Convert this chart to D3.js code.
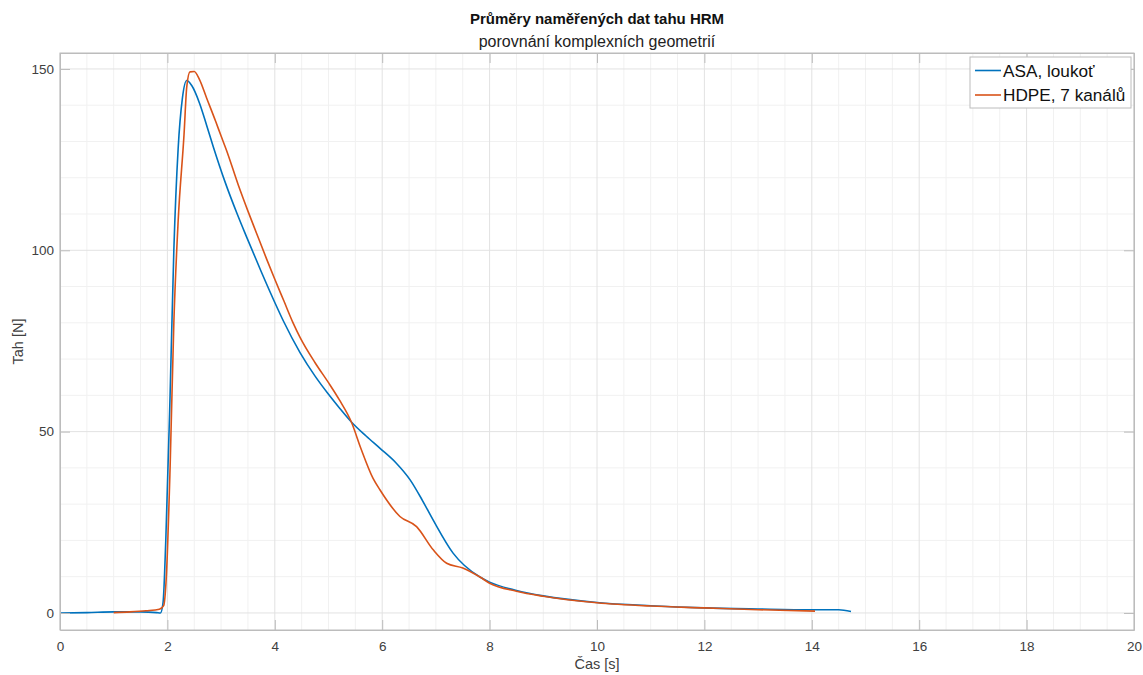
<!DOCTYPE html>
<html>
<head>
<meta charset="utf-8">
<script src="https://cdn.jsdelivr.net/npm/d3@7"></script>
<style>
  html, body { margin: 0; padding: 0; background: #fff; }
  svg { display: block; font-family: "Liberation Sans", Arial, sans-serif; }
</style>
</head>
<body>
<svg id="chart" width="1143" height="675"></svg>
<script>
// Averaged pull-force measurements [time s, force N]
const asaLoukot = [
  [0.0, 0.0], [0.5, 0.1], [1.0, 0.3], [1.5, 0.3], [1.8, 0.1], [1.87, 0.0],
  [1.92, 3], [1.97, 20], [2.05, 60], [2.12, 100], [2.2, 128], [2.28, 142],
  [2.36, 146.8], [2.45, 145.5], [2.6, 140.5], [2.73, 134.5], [2.86, 128.3],
  [3.07, 119], [3.3, 110], [3.48, 103.5], [3.75, 94], [4.0, 85.6],
  [4.16, 80.5], [4.47, 71.8], [4.75, 65.3], [5.0, 60.3], [5.2, 56.6],
  [5.43, 52.6], [5.7, 48.8], [5.96, 45.4], [6.25, 41.5], [6.52, 36.7],
  [6.75, 31], [6.95, 25.6], [7.32, 16.5], [7.82, 9.9], [8.0, 8.5], [8.5, 6.2],
  [9.0, 4.7], [10.0, 2.9], [11.0, 2.0], [12.0, 1.4], [13.0, 1.1], [14.0, 0.9],
  [14.5, 0.9], [14.73, 0.4]
];
const hdpe7Kanalu = [
  [1.0, 0.1], [1.3, 0.3], [1.6, 0.6], [1.85, 1.0], [1.93, 2], [1.98, 10],
  [2.05, 40], [2.12, 80], [2.2, 108], [2.31, 132], [2.36, 145], [2.42, 149.2],
  [2.5, 149.3], [2.6, 147], [2.73, 142], [2.9, 135.5], [3.0, 131.5],
  [3.1, 127.6], [3.32, 118], [3.5, 110.8], [3.66, 104.7], [3.85, 97.5],
  [4.0, 92], [4.17, 86], [4.34, 80], [4.47, 76], [4.75, 69], [5.0, 63.5],
  [5.2, 58.8], [5.43, 52.5], [5.6, 45.5], [5.83, 37.1], [5.96, 33.9],
  [6.33, 26.6], [6.64, 23.8], [6.95, 17.4], [7.2, 13.7], [7.5, 12.4],
  [7.82, 9.9], [8.0, 8.2], [8.5, 6.0], [9.0, 4.6], [10.0, 2.8], [11.0, 1.9],
  [12.0, 1.4], [13.0, 0.9], [14.06, 0.5]
];

const seriesNames = ["ASA, loukoť", "HDPE, 7 kanálů"];
const seriesColors = ["#0072BD", "#D95319"];
const xTicks = [0, 2, 4, 6, 8, 10, 12, 14, 16, 18, 20];
const yTicks = [0, 50, 100, 150];
const xMinorStep = 0.5;
const yMinorStep = 10;

const titleText = "Průměry naměřených dat tahu HRM";
const subtitleText = "porovnání komplexních geometrií";
const xLabel = "Čas [s]";
const yLabel = "Tah [N]";

const svg = d3.select("#chart");
const L = 60, R = 1134, T = 53, B = 630;

const x = d3.scaleLinear().domain([0, 20]).range([L, R]);
const y = d3.scaleLinear().domain([-4.7, 154.4]).range([B, T]);

// minor grid
const xMinor = d3.range(0, 20 + 1e-9, xMinorStep).filter(v => !xTicks.includes(v));
const yMinor = d3.range(0, 155, yMinorStep).filter(v => !yTicks.includes(v));
const grid = svg.append("g");
grid.selectAll(".xm").data(xMinor).join("line")
  .attr("x1", d => x(d)).attr("x2", d => x(d)).attr("y1", T).attr("y2", B)
  .attr("stroke", "#f1f1f1").attr("stroke-width", 1);
grid.selectAll(".ym").data(yMinor).join("line")
  .attr("x1", L).attr("x2", R).attr("y1", d => y(d)).attr("y2", d => y(d))
  .attr("stroke", "#f1f1f1").attr("stroke-width", 1);
// major grid
grid.selectAll(".xg").data(xTicks).join("line")
  .attr("x1", d => x(d)).attr("x2", d => x(d)).attr("y1", T).attr("y2", B)
  .attr("stroke", "#e2e2e2").attr("stroke-width", 1);
grid.selectAll(".yg").data(yTicks).join("line")
  .attr("x1", L).attr("x2", R).attr("y1", d => y(d)).attr("y2", d => y(d))
  .attr("stroke", "#e2e2e2").attr("stroke-width", 1);

// curves
const line = d3.line().x(d => x(d[0])).y(d => y(d[1])).curve(d3.curveMonotoneX);
[asaLoukot, hdpe7Kanalu].forEach((s, i) => {
  svg.append("path").datum(s)
    .attr("d", line)
    .attr("fill", "none")
    .attr("stroke", seriesColors[i])
    .attr("stroke-width", 1.6)
    .attr("stroke-linejoin", "round");
});

// axes (ticks point inward, box on)
const tickLen = 10;
const axisColor = "#bcbcbc";
const labelColor = "#404040";
const xAxis = svg.append("g").attr("transform", `translate(0,${B})`)
  .call(d3.axisBottom(x).tickValues(xTicks).tickSizeInner(-tickLen).tickSizeOuter(0).tickPadding(11));
const xAxisTop = svg.append("g").attr("transform", `translate(0,${T})`)
  .call(d3.axisTop(x).tickValues(xTicks).tickSizeInner(-tickLen).tickSizeOuter(0).tickFormat(""));
const yAxis = svg.append("g").attr("transform", `translate(${L},0)`)
  .call(d3.axisLeft(y).tickValues(yTicks).tickSizeInner(-tickLen).tickSizeOuter(0).tickPadding(6));
const yAxisRight = svg.append("g").attr("transform", `translate(${R},0)`)
  .call(d3.axisRight(y).tickValues(yTicks).tickSizeInner(-tickLen).tickSizeOuter(0).tickFormat(""));
[xAxis, xAxisTop, yAxis, yAxisRight].forEach(g => {
  g.select(".domain").attr("stroke", axisColor);
  g.selectAll(".tick line").attr("stroke", axisColor);
  g.selectAll(".tick text").attr("fill", labelColor).style("font-size", "13.5px")
    .style("font-family", "'Liberation Sans', Arial, sans-serif");
});

// box outline
svg.append("rect").attr("x", L).attr("y", T).attr("width", R - L).attr("height", B - T)
  .attr("fill", "none").attr("stroke", axisColor).attr("stroke-width", 1);

// axis labels
svg.append("text").attr("x", (L + R) / 2).attr("y", 669).attr("text-anchor", "middle")
  .attr("fill", labelColor).style("font-size", "14.5px").text(xLabel);
svg.append("text").attr("transform", `translate(23,${(T + B) / 2}) rotate(-90)`)
  .attr("text-anchor", "middle").attr("fill", labelColor).style("font-size", "14.5px").text(yLabel);

// title + subtitle
svg.append("text").attr("x", (L + R) / 2).attr("y", 24).attr("text-anchor", "middle")
  .attr("fill", "#111").style("font-size", "15px").style("font-weight", "bold").text(titleText);
svg.append("text").attr("x", (L + R) / 2).attr("y", 47).attr("text-anchor", "middle")
  .attr("fill", "#222").style("font-size", "16px").text(subtitleText);

// legend
const lg = svg.append("g").attr("transform", "translate(970,57)");
lg.append("rect").attr("width", 161).attr("height", 51).attr("fill", "#fff")
  .attr("stroke", axisColor).attr("stroke-width", 1);
seriesNames.forEach((name, i) => {
  const yy = 13.5 + i * 24.5;
  lg.append("line").attr("x1", 5).attr("x2", 31).attr("y1", yy).attr("y2", yy)
    .attr("stroke", seriesColors[i]).attr("stroke-width", 1.6);
  lg.append("text").attr("x", 33).attr("y", yy + 6.2).attr("fill", "#111")
    .style("font-size", "17.2px").text(name);
});
</script>
</body>
</html>
